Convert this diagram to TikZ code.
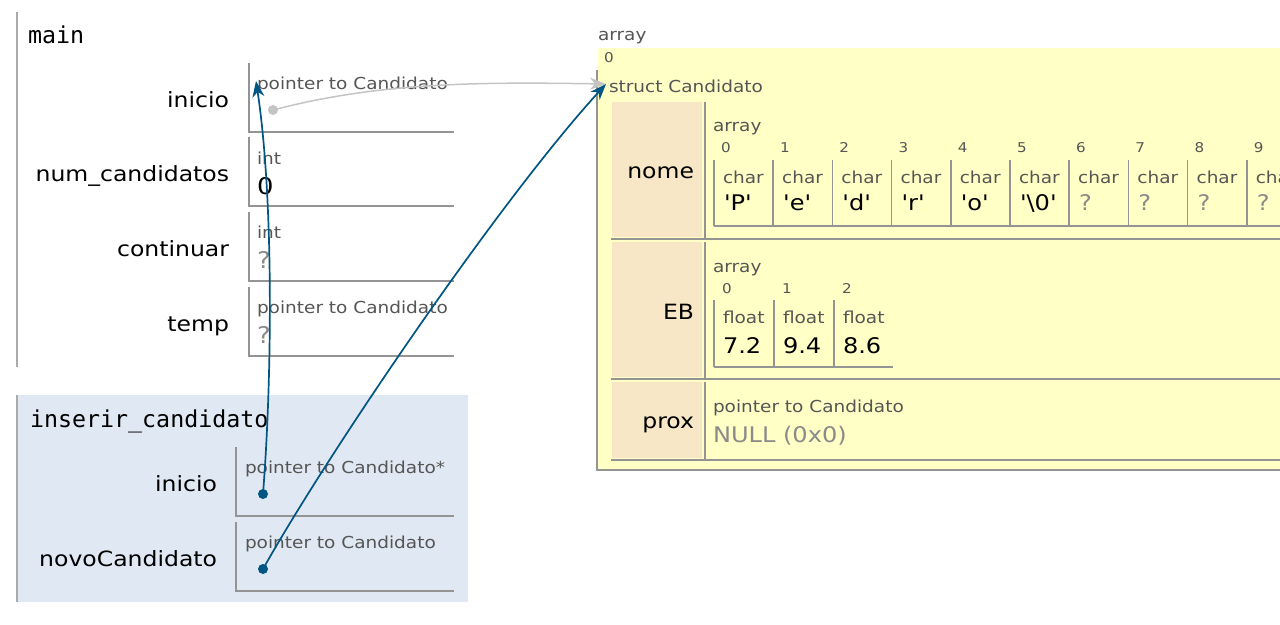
\documentclass[tikz,border=0pt]{standalone}
\usepackage{fontspec}
\setmainfont[FakeStretch=1.12]{DejaVu Sans}
\setmonofont{DejaVu Sans Mono}
\newfontfamily\valfont[FakeStretch=1.12]{DejaVu Sans}
\usetikzlibrary{arrows.meta,positioning,calc}

\definecolor{ptrblue}{HTML}{005583}
\definecolor{ptrgray}{HTML}{C4C4C4}
\definecolor{linegray}{HTML}{949494}
\definecolor{typegray}{HTML}{555555}
\definecolor{unkgray}{HTML}{8A8A8A}
\definecolor{heapyellow}{HTML}{FFFFC6}
\definecolor{fieldtan}{HTML}{F7E7C6}
\definecolor{framefill}{HTML}{E0E8F3}
\definecolor{framerule}{HTML}{AAAAAA}

\newcommand\pxfont[1]{\fontsize{#1}{#1}\selectfont}

\begin{document}
\begin{tikzpicture}[x=1pt,y=-1pt,>=Stealth,
  every node/.style={inner sep=0pt,outer sep=0pt},
  framename/.style={anchor=base west,font=\ttfamily\pxfont{23.3}},
  varname/.style={anchor=base east,font=\pxfont{21}},
  typename/.style={anchor=base west,text=typegray,font=\pxfont{16.5}},
  valname/.style={anchor=base west,font=\pxfont{21.5}},
  unkname/.style={valname,text=unkgray},
  idxname/.style={anchor=base west,text=typegray,font=\pxfont{13.5}},
  boxrule/.style={draw=linegray,line width=1.5pt},
  ptrdot/.style={circle,minimum size=10pt,fill=ptrblue},
  ptrtip/.style={-{Stealth[length=16pt,width=12pt,inset=5pt]}},
  ptrarrow/.style={draw=ptrblue,line width=1.7pt,ptrtip},
]
\useasboundingbox (0,0) rectangle (1280,624);
\clip (0,0) rectangle (1280,624);

% frame: main
\draw[framerule,line width=2pt] (17,12) -- (17,367);
\node[framename] (mainlbl) at (28,43) {main};
\foreach \top/\lbl [count=\i] in {63/inicio,137/num\_candidatos,212/continuar,287/temp} {
  \draw[boxrule] (249,\top) -- (249,\top+69) -- (454,\top+69);
  \node[varname] (mainvar\i) at (229,\top+44) {\lbl};
}
\node[typename] (maintype1) at (257,89) {pointer to Candidato};
\node[typename] (maintype2) at (257,164) {int};
\node[valname,font=\pxfont{23}] (mainval2) at (257,194) {0};
\node[typename] (maintype3) at (257,238) {int};
\node[unkname,font=\pxfont{23}] (mainval3) at (257,268) {?};
\node[typename] (maintype4) at (257,313) {pointer to Candidato};
\node[unkname,font=\pxfont{23}] (mainval4) at (257,343) {?};
\node[circle,minimum size=10pt,fill=ptrgray] (inicioptr) at (273,110) {};
\coordinate (iniciotgt) at (256,81);

% frame: inserir_candidato
\fill[framefill] (17,395) rectangle (468,602);
\draw[framerule,line width=2pt] (17,395) -- (17,602);
\node[framename] (insertlbl) at (30,427) {inserir\_candidato};
\foreach \top/\lbl [count=\i] in {447/inicio,522/novoCandidato} {
  \draw[boxrule] (236,\top) -- (236,\top+69) -- (454,\top+69);
  \node[varname] (insvar\i) at (217,\top+44) {\lbl};
}
\node[typename] (instype1) at (245,473) {pointer to Candidato*};
\node[typename] (instype2) at (245,548) {pointer to Candidato};
\node[ptrdot] (insiniciodot) at (263,494) {};
\node[ptrdot] (novodot) at (263,569) {};

% heap: array of struct Candidato
\node[typename] (heaplbl) at (598,40) {array};
\fill[heapyellow] (598,48) rectangle (1280,470);
\node[idxname] (heapidx) at (604,62) {0};
\draw[boxrule] (597,70) -- (597,470) -- (1280,470);
\node[typename] (structlbl) at (609,92) {struct Candidato};
\coordinate (structtgt) at (606,84);

\foreach \top/\bot/\lbl/\base in {102/239/nome/178,242/379/EB/319,382/460/prox/428} {
  \fill[fieldtan] (612,\top) rectangle (702,\bot-2);
  \draw[boxrule] (611,\bot) -- (1280,\bot);
  \draw[boxrule] (705,\top) -- (705,\bot);
  \node[varname] (field\lbl) at (694,\base) {\lbl};
}

% nome: char[10]
\node[typename] (nomearr) at (713,131) {array};
\foreach \i in {0,...,9} {
  \draw[boxrule] (714+59.2*\i,160) -- (714+59.2*\i,226);
  \node[idxname] (nomeidx\i) at (721+59.2*\i,152) {\i};
  \node[typename] (nometype\i) at (723+59.2*\i,183) {char};
}
\draw[boxrule] (714,226) -- (1280,226);
\foreach \ch [count=\i from 0] in {P,e,d,r,o,\textbackslash0} {
  \node[valname] (nomeval\i) at (724+59.2*\i,210) {\valfont'\ch'};
}
\foreach \i in {6,...,9} {
  \node[unkname] (nomeval\i) at (724+59.2*\i,210) {?};
}

% EB: float[3]
\node[typename] (ebarr) at (713,272) {array};
\foreach \v [count=\i from 0] in {7.2,9.4,8.6} {
  \draw[boxrule] (714+60*\i,300) -- (714+60*\i,367);
  \node[idxname] (ebidx\i) at (722+60*\i,293) {\i};
  \node[typename] (ebtype\i) at (723+60*\i,323) {float};
  \node[valname] (ebval\i) at (723+60*\i,353) {\v};
}
\draw[boxrule] (714,367) -- (893,367);

% prox
\node[typename] (proxtype) at (713,412) {pointer to Candidato};
\node[unkname] (proxval) at (713,442) {NULL (0x0)};

% pointers
\draw[ptrgray,line width=1.5pt,ptrtip]
  (inicioptr.center) .. controls (380,82) and (480,82) .. (structtgt);
\draw[ptrarrow] (novodot.center) .. controls (330,450) and (500,200) .. (structtgt);
\draw[ptrarrow] (insiniciodot.center) .. controls (272,380) and (274,200) .. (iniciotgt);
\end{tikzpicture}
\end{document}
